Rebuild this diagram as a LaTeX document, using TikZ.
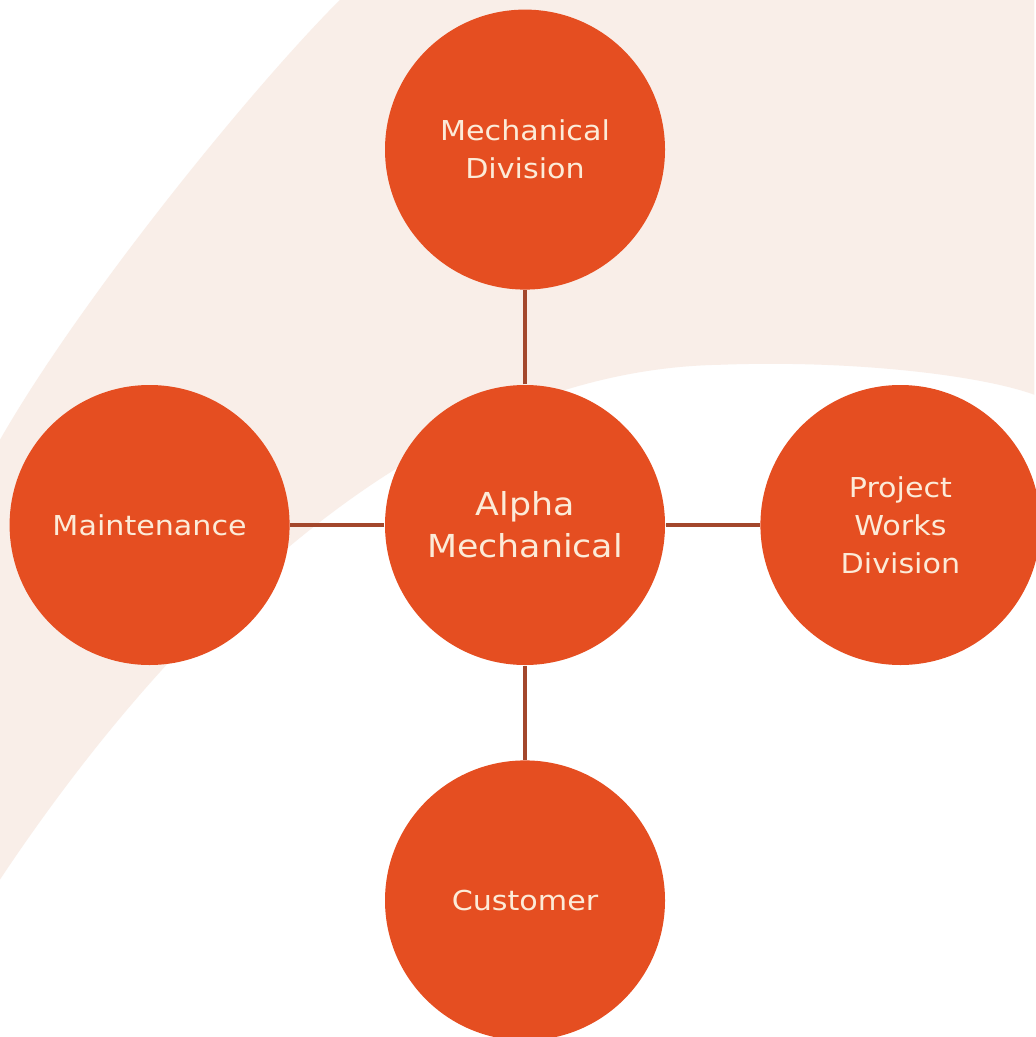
\documentclass[tikz,border=0pt]{standalone}
\usepackage{fontspec}
\setmainfont{DejaVu Sans}[FakeStretch=1.1]
\usetikzlibrary{positioning}
\definecolor{discfill}{HTML}{E54E21}
\definecolor{disctext}{HTML}{FCEBD8}
\definecolor{linkbrown}{HTML}{A3472C}
\definecolor{swoosh}{HTML}{F9EEE8}

\begin{document}
\begin{tikzpicture}[
    disc/.style={circle,fill=discfill,text=disctext,minimum size=2.8cm,inner sep=0pt,
        align=center,font=\fontsize{7.8}{10.8}\selectfont},
    link/.style={draw=linkbrown,line width=0.9pt},
    node distance=0.94cm]
    \useasboundingbox (0,0) rectangle (10.35,-10.37);
    % background swoosh, in pixel units from the top left corner
    \begin{scope}[x=0.01cm,y=-0.01cm]
        \fill[white] (0,0) rectangle (1035,1037);
        \fill[swoosh] (340,0) .. controls (250,90) and (80,300) .. (0,440) -- (0,880)
            .. controls (200,580) and (450,370) .. (720,365)
            .. controls (850,360) and (980,375) .. (1035,395) -- (1035,0) -- cycle;
    \end{scope}
    \node(alpha)[disc,font=\fontsize{9}{12}\selectfont] at (5.25,-5.25) {Alpha\\Mechanical};
    \node(mech)[disc,above=of alpha]{Mechanical\\Division};
    \node(maint)[disc,left=of alpha]{Maintenance};
    \node(proj)[disc,right=of alpha]{Project\\Works\\Division};
    \node(cust)[disc,below=of alpha]{Customer};
    \foreach \n in {mech,maint,proj,cust}
        \draw[link] (alpha) -- (\n);
\end{tikzpicture}
\end{document}
